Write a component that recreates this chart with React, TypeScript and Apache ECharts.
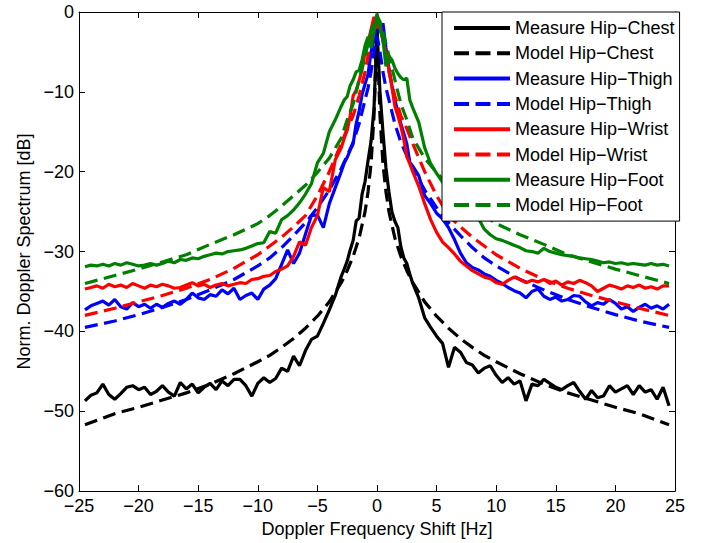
import React, { useEffect, useRef } from "react";
import * as echarts from "echarts";

// Frequency grid of the measured spectra [Hz]
const freqMeasured = [
  -24.5, -24, -23.5, -23, -22.5, -22, -21.5, -21, -20.5, -20,
  -19.5, -19, -18.5, -18, -17.5, -17, -16.5, -16, -15.5, -15,
  -14.5, -14, -13.5, -13, -12.5, -12, -11.5, -11, -10.5, -10,
  -9.5, -9, -8.5, -8, -7.5, -7, -6.5, -6, -5.5, -5,
  -4.5, -4, -3.5,
  -3, -2.75, -2.5, -2.25, -2, -1.75, -1.5, -1.25, -1, -0.75, -0.5, -0.25,
  0,
  0.25, 0.5, 0.75, 1, 1.25, 1.5, 1.75, 2, 2.25, 2.5, 2.75, 3,
  3.5, 4, 4.5, 5, 5.5, 6, 6.5, 7, 7.5, 8,
  8.5, 9, 9.5, 10, 10.5, 11, 11.5, 12, 12.5, 13,
  13.5, 14, 14.5, 15, 15.5, 16, 16.5, 17, 17.5, 18,
  18.5, 19, 19.5, 20, 20.5, 21, 21.5, 22, 22.5, 23,
  23.5, 24, 24.5,
];

const measureChest = [
  -48.7, -48.0, -47.7, -46.6, -47.9, -48.5, -47.8, -47.0, -46.8, -47.3,
  -47.0, -47.9, -47.5, -46.8, -47.6, -48.1, -46.4, -47.2, -46.6, -47.7,
  -47.0, -46.5, -47.3, -46.2, -46.8, -46.0, -46.0, -46.8, -48.1, -46.5,
  -45.8, -46.4, -45.9, -44.6, -45.0, -43.1, -44.3, -42.4, -41.0, -40.6,
  -39.0, -37.3, -35.5,
  -33.1, -32.2, -31.2, -29.8, -28.6, -26.2, -25.8, -22.8, -21.2, -18.6, -16.2, -12.0,
  -2.0,
  -10.0, -15.0, -19.5, -22.5, -25.0, -26.2, -27.0, -29.4, -30.8, -31.5, -32.8, -34.0,
  -35.8, -38.3, -39.5, -40.6, -41.5, -44.5, -42.0, -42.6, -43.9, -44.2,
  -45.2, -44.6, -44.3, -45.5, -46.4, -45.8, -46.6, -46.2, -48.7, -46.6,
  -46.8, -46.0, -46.5, -47.0, -47.3, -46.8, -46.4, -47.5, -48.5, -47.4,
  -48.3, -48.1, -46.8, -47.6, -47.2, -46.8, -47.9, -46.8, -47.6, -47.3,
  -48.5, -47.0, -49.3,
];

const measureThigh = [
  -37.3, -36.8, -36.5, -36.2, -36.7, -36.0, -36.9, -37.2, -36.4, -36.9,
  -36.6, -37.1, -36.6, -37.0, -36.5, -36.2, -36.6, -36.0, -35.2, -35.8,
  -36.0, -35.4, -35.6, -34.8, -35.3, -34.6, -36.0, -35.5, -35.2, -36.0,
  -34.7, -34.2, -33.4, -31.6, -29.8, -31.5, -30.2, -27.8, -25.5, -25.4,
  -27.0, -24.0, -22.0,
  -20.0, -18.9, -18.2, -17.3, -16.5, -14.0, -12.4, -10.3, -9.0, -7.8, -5.0, -3.5,
  -1.8,
  -2.5, -1.4, -4.5, -7.0, -9.2, -11.0, -12.5, -14.0, -15.2, -16.5, -18.8, -19.3,
  -20.5, -23.0, -24.0, -25.2, -25.9, -27.0, -28.5, -30.2, -31.4, -32.0,
  -32.3, -32.8, -33.1, -33.6, -34.0, -34.5, -34.9, -35.2, -35.8, -35.0,
  -34.7, -35.6, -36.0, -35.7, -36.2, -36.0, -35.5, -35.6, -36.3, -36.8,
  -36.4, -36.6, -36.0, -36.5, -37.2, -36.9, -37.5, -37.0, -36.6, -37.1,
  -36.8, -37.2, -36.6,
];

const measureWrist = [
  -34.7, -34.5, -34.3, -34.6, -34.1, -34.4, -34.2, -34.5, -34.0, -34.3,
  -34.6, -34.2, -34.4, -34.1, -34.3, -34.6, -34.5, -34.2, -33.9, -34.3,
  -34.1, -34.5, -34.2, -34.0, -34.3, -34.1, -33.9, -34.0, -33.5, -33.4,
  -33.1, -33.0, -32.5, -32.2, -31.8, -30.6, -28.8, -29.2, -27.0, -25.5,
  -22.0, -22.5, -18.5,
  -17.0, -15.8, -14.8, -13.0, -10.5, -9.8, -8.6, -7.2, -5.0, -3.8, -2.2, -0.6,
  -2.0,
  -1.5, -3.5, -5.2, -7.2, -9.4, -11.8, -13.0, -14.3, -16.0, -18.1, -19.0, -20.0,
  -21.8, -24.0, -26.0, -27.6, -28.8, -29.5, -30.3, -31.2, -31.8, -32.4,
  -32.8, -33.2, -33.4, -33.9, -34.1, -33.6, -33.2, -33.5, -33.9, -33.6,
  -33.8, -33.5, -34.0, -33.7, -34.2, -33.8, -34.0, -33.6, -33.9, -34.3,
  -35.0, -34.6, -34.2, -34.4, -34.7, -34.3, -34.5, -34.2, -34.6, -34.4,
  -34.7, -34.3, -34.3,
];

const measureFoot = [
  -31.9, -31.7, -31.8, -31.6, -31.8, -31.5, -31.7, -31.4, -31.6, -31.8,
  -31.7, -31.5, -31.7, -31.5, -31.2, -31.4, -31.0, -31.1, -30.8, -30.9,
  -30.6, -30.4, -30.2, -30.3, -30.0, -29.9, -29.8, -29.6, -29.3, -29.0,
  -28.9, -27.5, -27.7, -26.0, -25.5, -24.8, -23.9, -22.8, -21.5, -18.9,
  -17.7, -15.0, -13.5,
  -11.8, -11.0, -10.6, -9.2, -8.5, -7.5, -7.3, -6.0, -4.2, -3.1, -4.5, -2.5,
  -0.2,
  -2.0, -3.5, -6.8, -5.5, -6.0, -7.0, -7.7, -8.2, -8.5, -8.3, -11.0, -12.0,
  -13.8, -17.0, -19.0, -20.2, -21.3, -22.3, -23.2, -23.8, -24.6, -25.2,
  -25.8, -27.2, -27.9, -28.4, -28.6, -28.9, -29.2, -29.5, -29.9, -30.0,
  -30.2, -29.6, -30.0, -30.2, -30.4, -30.5, -30.6, -30.8, -30.9, -31.0,
  -31.2, -31.4, -31.3, -31.5, -31.4, -31.6, -31.5, -31.6, -31.7, -31.5,
  -31.7, -31.6, -31.8,
];

// Frequency grid of the model curves [Hz]
const freqModel = [
  -24.5, -22, -20, -18, -16, -14, -12, -10, -9, -8, -7, -6, -5, -4, -3, -2.5, -2, -1.5, -1, -0.75, -0.5, -0.25,
  0,
  0.25, 0.5, 0.75, 1, 1.5, 2, 2.5, 3, 4, 5, 6, 7, 8, 9, 10, 12, 14, 16, 18, 20, 22, 24.5,
];

const modelChest = [
  -51.7, -50.3, -49.5, -48.6, -47.7, -46.6, -45.3, -43.8, -43.0, -42.0, -40.9, -39.6, -38.1, -36.3, -33.9, -32.4, -30.6, -28.3, -25.0, -22.5, -19.0, -13.0,
  -2.0,
  -13.0, -19.0, -22.5, -25.0, -28.3, -30.6, -32.4, -33.9, -36.3, -38.1, -39.6, -40.9, -42.0, -43.0, -43.8, -45.3, -46.6, -47.7, -48.6, -49.5, -50.3, -51.7,
];

const modelThigh = [
  -39.5, -38.7, -37.9, -37.0, -36.0, -34.8, -33.5, -31.8, -30.8, -29.5, -28.0, -26.4, -24.5, -22.3, -19.6, -18.0, -16.3, -14.0, -11.0, -9.5, -7.5, -5.0,
  -3.0,
  -5.0, -7.5, -9.5, -11.0, -14.0, -16.3, -18.0, -19.6, -22.3, -24.5, -26.4, -28.0, -29.5, -30.8, -31.8, -33.5, -34.8, -36.0, -37.0, -37.9, -38.7, -39.5,
];

const modelWrist = [
  -38.0, -37.1, -36.3, -35.5, -34.6, -33.5, -32.1, -30.4, -29.3, -28.2, -26.9, -25.5, -23.0, -20.0, -16.5, -14.6, -13.0, -10.5, -7.5, -5.5, -3.6, -2.0,
  -1.0,
  -2.0, -3.6, -5.5, -7.5, -10.5, -13.0, -14.6, -16.5, -20.0, -23.0, -25.5, -26.9, -28.2, -29.3, -30.4, -32.1, -33.5, -34.6, -35.5, -36.3, -37.1, -38.0,
];

const modelFoot = [
  -34.0, -33.0, -32.2, -31.3, -30.4, -29.1, -27.9, -26.5, -25.5, -24.3, -23.0, -21.7, -20.1, -18.3, -15.8, -13.5, -11.5, -8.5, -5.5, -4.0, -2.5, -1.2,
  -0.5,
  -1.2, -2.5, -4.0, -5.5, -8.5, -11.5, -13.5, -15.8, -18.3, -20.1, -21.7, -23.0, -24.3, -25.5, -26.5, -27.9, -29.1, -30.4, -31.3, -32.2, -33.0, -34.0,
];

const seriesNames = [
  "Measure Hip\u2212Chest",
  "Model Hip\u2212Chest",
  "Measure Hip\u2212Thigh",
  "Model Hip\u2212Thigh",
  "Measure Hip\u2212Wrist",
  "Model Hip\u2212Wrist",
  "Measure Hip\u2212Foot",
  "Model Hip\u2212Foot",
];

const FONT = "'Liberation Sans', Arial, Helvetica, sans-serif";

function pairs(xs: number[], ys: number[]) {
  return xs.map((x, i) => [x, ys[i]]);
}

export default function App() {
  const ref = useRef<HTMLDivElement>(null);
  useEffect(() => {
    if (!ref.current) return;
    const chart = echarts.init(ref.current, undefined, { renderer: "svg" });
    const minus = (v: number) => String(v).replace("-", "\u2212");
    const axisCommon = {
      axisLine: { show: true, onZero: false, lineStyle: { color: "#000", width: 1 } },
      axisTick: { show: true, inside: true, length: 6, lineStyle: { color: "#000" } },
      splitLine: { show: false },
    };
    const defs: [string, number[], number[], string, boolean][] = [
      [seriesNames[0], freqMeasured, measureChest, "#000000", false],
      [seriesNames[1], freqModel, modelChest, "#000000", true],
      [seriesNames[2], freqMeasured, measureThigh, "#0000ff", false],
      [seriesNames[3], freqModel, modelThigh, "#0000ff", true],
      [seriesNames[4], freqMeasured, measureWrist, "#ff0000", false],
      [seriesNames[5], freqModel, modelWrist, "#ff0000", true],
      [seriesNames[6], freqMeasured, measureFoot, "#008000", false],
      [seriesNames[7], freqModel, modelFoot, "#008000", true],
    ];
    chart.setOption({
      animation: false,
      backgroundColor: "#fff",
      textStyle: { fontFamily: FONT },
      grid: { left: 79, right: 36, top: 12, bottom: 51, containLabel: false },
      xAxis: [
        {
          type: "value",
          min: -25,
          max: 25,
          interval: 5,
          position: "bottom",
          ...axisCommon,
          axisLabel: { color: "#000", fontSize: 18, fontFamily: FONT, margin: 6, formatter: minus },
          name: "Doppler Frequency Shift [Hz]",
          nameLocation: "middle",
          nameGap: 22,
          nameTextStyle: { color: "#000", fontSize: 18, fontFamily: FONT, verticalAlign: "top" },
        },
        {
          type: "value",
          min: -25,
          max: 25,
          interval: 5,
          position: "top",
          ...axisCommon,
          axisLabel: { show: false },
        },
      ],
      yAxis: [
        {
          type: "value",
          min: -60,
          max: 0,
          interval: 10,
          position: "left",
          ...axisCommon,
          axisLabel: { color: "#000", fontSize: 18, fontFamily: FONT, margin: 5, formatter: minus },
          name: "Norm. Doppler Spectrum [dB]",
          nameLocation: "middle",
          nameGap: 44,
          nameTextStyle: { color: "#000", fontSize: 18, fontFamily: FONT },
        },
        {
          type: "value",
          min: -60,
          max: 0,
          interval: 10,
          position: "right",
          ...axisCommon,
          axisLabel: { show: false },
        },
      ],
      legend: {
        orient: "vertical",
        left: 442,
        top: 12,
        backgroundColor: "#fff",
        borderColor: "#000",
        borderWidth: 1,
        borderRadius: 0,
        padding: [6, 5, 6, 10],
        itemWidth: 56,
        itemHeight: 14,
        itemGap: 5.3,
        selectedMode: false,
        data: defs.map(([name, , , , dashed]) =>
          dashed
            ? { name, lineStyle: { type: [15, 6.5], width: 4 } }
            : { name, lineStyle: { width: 4 } }
        ),
        itemStyle: { opacity: 0, borderWidth: 0 },
        textStyle: { fontSize: 18, color: "#000", fontFamily: FONT, lineHeight: 20 },
      },
      series: defs.map(([name, xs, ys, color, dashed]) => ({
        name,
        type: "line",
        xAxisIndex: 0,
        yAxisIndex: 0,
        data: pairs(xs, ys),
        symbol: "none",
        showSymbol: false,
        smooth: false,
        clip: true,
        lineStyle: { color, width: 3.2, type: dashed ? [13, 6.5] : "solid" },
        itemStyle: { color },
      })),
    });
    return () => chart.dispose();
  }, []);
  return (
    <div
      ref={ref}
      style={{ position: "fixed", left: 0, top: 0, width: 711, height: 543 }}
    />
  );
}
